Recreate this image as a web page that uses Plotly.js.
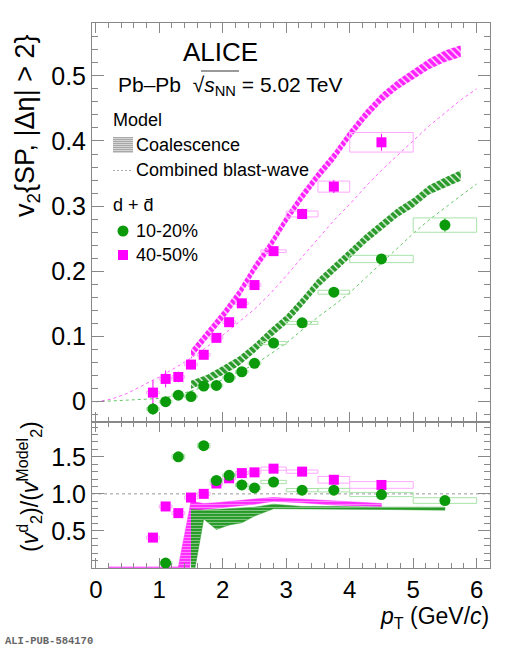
<!DOCTYPE html>
<html><head><meta charset="utf-8">
<script src="https://cdn.plot.ly/plotly-3.0.1.min.js"></script>
<style>html,body{margin:0;padding:0;background:#fff;}#chart{width:511px;height:650px;}</style>
</head><body><div id="chart"></div>
<script>
// ---------- data ----------
const ptCenter = [0.9,1.1,1.3,1.5,1.7,1.9,2.1,2.3,2.5,2.8,3.25,3.75,4.5,5.5];
const ptLow    = [0.8,1.0,1.2,1.4,1.6,1.8,2.0,2.2,2.4,2.6,3.0,3.5,4.0,5.0];
const ptHigh   = [1.0,1.2,1.4,1.6,1.8,2.0,2.2,2.4,2.6,3.0,3.5,4.0,5.0,6.0];

const v2Cent1020     = [-0.011,0.000,0.010,0.008,0.024,0.025,0.037,0.046,0.059,0.090,0.121,0.168,0.219,0.271];
const v2Cent1020Stat = [0.009,0.006,0.005,0.005,0.004,0.004,0.004,0.004,0.004,0.004,0.005,0.006,0.007,0.010];
const v2Cent1020Sys  = [0.002,0.002,0.002,0.002,0.002,0.002,0.002,0.002,0.002,0.0025,0.0023,0.003,0.0056,0.011];

const v2Cent4050     = [0.014,0.035,0.038,0.057,0.072,0.098,0.122,0.151,0.179,0.231,0.288,0.330,0.398];
const v2Cent4050Stat = [0.019,0.013,0.008,0.006,0.006,0.006,0.006,0.006,0.006,0.006,0.008,0.010,0.013];
const v2Cent4050Sys  = [0.002,0.002,0.002,0.002,0.002,0.002,0.002,0.002,0.002,0.002,0.0045,0.0085,0.015];

// coalescence model bands
const coalPt      = [1.5,1.75,2.0,2.25,2.5,2.75,3.0,3.25,3.5,3.75,4.0,4.25,4.5,4.75,5.0,5.25,5.5,5.75];
const coal4050Lo  = [0.066,0.095,0.125,0.158,0.198,0.233,0.273,0.308,0.340,0.369,0.403,0.433,0.459,0.479,0.495,0.510,0.521,0.529];
const coal4050Hi  = [0.080,0.109,0.139,0.172,0.212,0.247,0.287,0.322,0.354,0.383,0.417,0.447,0.473,0.493,0.509,0.526,0.539,0.547];
const coal1020Lo  = [0.020,0.029,0.041,0.055,0.075,0.098,0.119,0.146,0.175,0.197,0.220,0.243,0.263,0.283,0.298,0.318,0.328,0.339];
const coal1020Hi  = [0.032,0.041,0.055,0.069,0.089,0.112,0.133,0.160,0.189,0.211,0.234,0.257,0.277,0.297,0.312,0.332,0.344,0.355];

// combined blast-wave
const bwPt   = [0,0.25,0.5,0.75,1.0,1.25,1.5,1.75,2.0,2.25,2.5,2.75,3.0,3.25,3.5,3.75,4.0,4.25,4.5,4.75,5.0,5.25,5.5,5.75,6.0];
const bw4050 = [0,0.004,0.013,0.025,0.038,0.052,0.067,0.084,0.102,0.122,0.142,0.166,0.193,0.222,0.250,0.278,0.303,0.330,0.355,0.378,0.400,0.423,0.443,0.463,0.480];
const bw1020 = [0,0.001,0.002,0.003,0.005,0.009,0.016,0.024,0.034,0.045,0.057,0.073,0.090,0.110,0.130,0.148,0.167,0.190,0.213,0.236,0.258,0.279,0.298,0.316,0.334];

// ratio panel
const ratio4050    = [0.41,0.83,0.74,0.95,1.00,1.14,1.21,1.28,1.29,1.34,1.30,1.19,1.12];
const ratio4050Sys = [0.02,0.02,0.02,0.02,0.02,0.02,0.02,0.02,0.02,0.022,0.022,0.045,0.045];
const ratio1020    = [null,0.067,1.50,null,1.65,1.18,1.25,1.12,1.08,1.16,1.05,1.05,0.99,0.91];
const ratio1020Sys = [null,0.02,0.03,null,0.03,0.02,0.02,0.02,0.02,0.022,0.022,0.024,0.027,0.038];

// ratio bands (model)
const rb4050UpPt = [0.2,1.3,1.5,1.7,1.9,2.1,2.3,2.5,2.8,3.25,3.75,4.5];
const rb4050Up   = [0.015,0.015,0.90,0.87,0.88,0.90,0.91,0.93,0.95,0.93,0.90,0.87];
const rb4050LoPt = [0.2,1.48,1.56,1.7,1.9,2.1,2.3,2.5,2.8,3.25,3.75,4.5];
const rb4050Lo   = [0,0,0.75,0.79,0.80,0.82,0.84,0.86,0.90,0.88,0.85,0.83];
const rb1020Pt   = [1.5,1.7,1.9,2.1,2.3,2.5,2.8,3.25,3.75,4.5,5.5];
const rb1020Up   = [0.79,0.78,0.79,0.80,0.81,0.82,0.86,0.83,0.83,0.82,0.82];
const rb1020Lo   = [-0.3,0.66,0.52,0.58,0.61,0.70,0.80,0.79,0.79,0.79,0.78];

const xTickVals = [0,1,2,3,4,5,6];
const yTopTickVals = [0,0.1,0.2,0.3,0.4,0.5];
const yBotTickVals = [0.5,1.0,1.5];
const yBotTickText = ['0.5','1.0','1.5'];

// ---------- styling ----------
const GREEN='#0a9a0a', MAG='#ff00ff';
const GBOX='#a8e2a8', MBOX='#ffa8ff';
const FONT='Liberation Sans, Arial, sans-serif';
const L=92,R=490,T=23,B=568;
const pxX = x => (x-L)/(R-L);
const pxY = y => (B-y)/(B-T);

function band(xUp, yUp, xLo, yLo){
  return {x: xUp.concat(xLo.slice().reverse()), y: yUp.concat(yLo.slice().reverse())};
}
function boxes(vals, sys, n){
  const x=[], y=[];
  for(let i=0;i<n;i++){
    if(vals[i]===null) continue;
    const a=ptLow[i], b=ptHigh[i], lo=vals[i]-sys[i], hi=vals[i]+sys[i];
    x.push(a,b,b,a,a,null); y.push(lo,lo,hi,hi,lo,null);
  }
  return {x,y};
}

const traces=[];
// top coalescence bands
let bp = band(coalPt, coal4050Hi, coalPt, coal4050Lo);
traces.push({x:bp.x,y:bp.y,xaxis:'x',yaxis:'y',type:'scatter',mode:'lines',fill:'toself',
  fillcolor:'#ff22ff',line:{width:0},hoverinfo:'skip',showlegend:false,
  fillpattern:{shape:'\\',bgcolor:'#ff22ff',fgcolor:'#ffffff',size:5,solidity:0.25}});
bp = band(coalPt, coal1020Hi, coalPt, coal1020Lo);
traces.push({x:bp.x,y:bp.y,xaxis:'x',yaxis:'y',type:'scatter',mode:'lines',fill:'toself',
  fillcolor:'#2a9a2a',line:{width:0},hoverinfo:'skip',showlegend:false,
  fillpattern:{shape:'\\',bgcolor:'#2a9a2a',fgcolor:'#ffffff',size:5,solidity:0.25}});
// blast-wave
traces.push({x:bwPt,y:bw4050,xaxis:'x',yaxis:'y',type:'scatter',mode:'lines',
  line:{color:'#ff66ff',width:1,dash:'3px,3px'},showlegend:false});
traces.push({x:bwPt,y:bw1020,xaxis:'x',yaxis:'y',type:'scatter',mode:'lines',
  line:{color:'#66c866',width:1,dash:'3px,3px'},showlegend:false});
// top boxes
let bx = boxes(v2Cent4050, v2Cent4050Sys, v2Cent4050.length);
traces.push({x:bx.x,y:bx.y,xaxis:'x',yaxis:'y',type:'scatter',mode:'lines',line:{color:MBOX,width:1},showlegend:false});
bx = boxes(v2Cent1020, v2Cent1020Sys, v2Cent1020.length);
traces.push({x:bx.x,y:bx.y,xaxis:'x',yaxis:'y',type:'scatter',mode:'lines',line:{color:GBOX,width:1},showlegend:false});
// top markers
traces.push({x:ptCenter.slice(0,v2Cent4050.length),y:v2Cent4050,xaxis:'x',yaxis:'y',type:'scatter',mode:'markers',
  marker:{symbol:'square',size:10,color:MAG},
  error_y:{type:'data',array:v2Cent4050Stat,color:MAG,thickness:1,width:0},showlegend:false});
traces.push({x:ptCenter,y:v2Cent1020,xaxis:'x',yaxis:'y',type:'scatter',mode:'markers',
  marker:{symbol:'circle',size:11,color:GREEN},
  error_y:{type:'data',array:v2Cent1020Stat,color:GREEN,thickness:1,width:0},showlegend:false});

// ratio bands
bp = band(rb4050UpPt, rb4050Up, rb4050LoPt, rb4050Lo);
traces.push({x:bp.x,y:bp.y,xaxis:'x2',yaxis:'y2',type:'scatter',mode:'lines',fill:'toself',
  fillcolor:'#ff2aff',line:{width:0.5,color:'#ff2aff'},hoverinfo:'skip',showlegend:false,
  fillpattern:{shape:'-',bgcolor:'#ff2aff',fgcolor:'rgba(255,255,255,0.75)',size:3,solidity:0.2}});
bp = band(rb1020Pt, rb1020Up, rb1020Pt, rb1020Lo);
traces.push({x:bp.x,y:bp.y,xaxis:'x2',yaxis:'y2',type:'scatter',mode:'lines',fill:'toself',
  fillcolor:'#279a27',line:{width:0.5,color:'#279a27'},hoverinfo:'skip',showlegend:false,
  fillpattern:{shape:'-',bgcolor:'#279a27',fgcolor:'rgba(255,255,255,0.75)',size:3,solidity:0.2}});
// ratio boxes
bx = boxes(ratio4050, ratio4050Sys, ratio4050.length);
traces.push({x:bx.x,y:bx.y,xaxis:'x2',yaxis:'y2',type:'scatter',mode:'lines',line:{color:MBOX,width:1},showlegend:false});
bx = boxes(ratio1020, ratio1020Sys, ratio1020.length);
traces.push({x:bx.x,y:bx.y,xaxis:'x2',yaxis:'y2',type:'scatter',mode:'lines',line:{color:GBOX,width:1},showlegend:false});
// ratio markers
traces.push({x:ptCenter.slice(0,ratio4050.length),y:ratio4050,xaxis:'x2',yaxis:'y2',type:'scatter',mode:'markers',
  marker:{symbol:'square',size:10,color:MAG},showlegend:false});
traces.push({x:ptCenter,y:ratio1020,xaxis:'x2',yaxis:'y2',type:'scatter',mode:'markers',
  marker:{symbol:'circle',size:11,color:GREEN},showlegend:false});

const axCol='#888';
const xCommon = {range:[-0.06,6.21],tickvals:xTickVals,ticks:'inside',ticklen:10,tickcolor:axCol,
  showline:true,linecolor:axCol,linewidth:1,mirror:'ticks',showgrid:false,zeroline:false,
  minor:{ticks:'inside',dtick:0.2,tick0:0,ticklen:5,tickcolor:axCol},automargin:false,
  tickfont:{family:FONT,size:24,color:'#000'}};
const layout = {
  width:511,height:650,margin:{l:L,r:511-R,t:T,b:650-B},
  paper_bgcolor:'#fff',plot_bgcolor:'#fff',showlegend:false,
  font:{family:FONT,color:'#000'},
  xaxis:Object.assign({},xCommon,{anchor:'y',showticklabels:false,matches:'x2'}),
  xaxis2:Object.assign({},xCommon,{anchor:'y2',showticklabels:true}),
  yaxis:{domain:[0.268,1],anchor:'x',range:[-0.031,0.581],tickvals:yTopTickVals,ticks:'inside',ticklen:12,
    tickcolor:axCol,showline:true,linecolor:axCol,mirror:'ticks',showgrid:false,zeroline:false,
    minor:{ticks:'inside',dtick:0.02,tick0:0,ticklen:6,tickcolor:axCol},automargin:false,
    tickfont:{family:FONT,size:25,color:'#000'}},
  yaxis2:{domain:[0,0.268],anchor:'x2',range:[0,1.97],tickvals:yBotTickVals,ticktext:yBotTickText,ticks:'inside',ticklen:12,
    tickcolor:axCol,showline:true,linecolor:axCol,mirror:'ticks',showgrid:false,zeroline:false,
    minor:{ticks:'inside',dtick:0.1,tick0:0,ticklen:6,tickcolor:axCol},automargin:false,
    tickfont:{family:FONT,size:25,color:'#000'}},
  shapes:[],
  annotations:[]
};
// dashed unity line
layout.shapes.push({type:'line',xref:'x2 domain',x0:0,x1:1,yref:'y2',y0:1,y1:1,line:{color:'#999',width:1,dash:'3px,3px'},layer:'below'});
// legend symbols
layout.shapes.push({type:'rect',xref:'paper',yref:'paper',x0:pxX(113),x1:pxX(133),y0:pxY(153),y1:pxY(137),fillcolor:'#a8a8a8',line:{width:0}});
for(let yy=138.5; yy<153; yy+=2){
  layout.shapes.push({type:'line',xref:'paper',yref:'paper',x0:pxX(113),x1:pxX(133),y0:pxY(yy),y1:pxY(yy),line:{color:'#e8e8e8',width:0.7}});
}
layout.shapes.push({type:'line',xref:'paper',yref:'paper',x0:pxX(113),x1:pxX(132),y0:pxY(170.5),y1:pxY(170.5),line:{color:'#aaa',width:1,dash:'2px,2px'}});
layout.shapes.push({type:'circle',xref:'paper',yref:'paper',x0:pxX(117.5),x1:pxX(128.5),y0:pxY(236.5),y1:pxY(225.5),fillcolor:GREEN,line:{width:0}});
layout.shapes.push({type:'rect',xref:'paper',yref:'paper',x0:pxX(118),x1:pxX(128),y0:pxY(260),y1:pxY(250),fillcolor:MAG,line:{width:0}});
// sqrt overline
layout.shapes.push({type:'line',xref:'paper',yref:'paper',x0:pxX(201),x1:pxX(239),y0:pxY(71),y1:pxY(71),line:{color:'#000',width:0.8}});

function ann(text,x,y,size,opts){
  return Object.assign({text:text,xref:'paper',yref:'paper',x:pxX(x),y:pxY(y),xanchor:'left',yanchor:'middle',
    showarrow:false,font:{family:FONT,size:size,color:'#000'}},opts||{});
}
layout.annotations.push(ann('ALICE',181,52,26));
layout.annotations.push(ann('Pb–Pb\u00a0 √<i>s</i><sub>NN</sub> = 5.02 TeV',116,86,21));
layout.annotations.push(ann('Model',111,120,18));
layout.annotations.push(ann('Coalescence',134,145,18));
layout.annotations.push(ann('Combined blast-wave',134,170,18));
layout.annotations.push(ann('d + d̄',111,205,18));
layout.annotations.push(ann('10-20%',134,231,18));
layout.annotations.push(ann('40-50%',134,255,18));
layout.annotations.push(ann('v<sub>2</sub>{SP, |Δη| > 2}',27,126,27,{xanchor:'center',textangle:-90}));
layout.annotations.push(ann('(<i>v</i><sup>d</sup><sub>2</sub>)/(<i>v</i><sup>Model</sup><sub>2</sub>)',29,487,23,{xanchor:'center',textangle:-90}));
layout.annotations.push(ann('<i>p</i><sub>T</sub> (GeV/<i>c</i>)',491,617,23,{xanchor:'right'}));
layout.annotations.push(ann('<b>ALI-PUB-584170</b>',3,641,10.5,{font:{family:'Liberation Mono, DejaVu Sans Mono, monospace',size:10.5,color:'#666'}}));

Plotly.newPlot('chart',traces,layout,{staticPlot:true,displayModeBar:false});
</script>
</body></html>
